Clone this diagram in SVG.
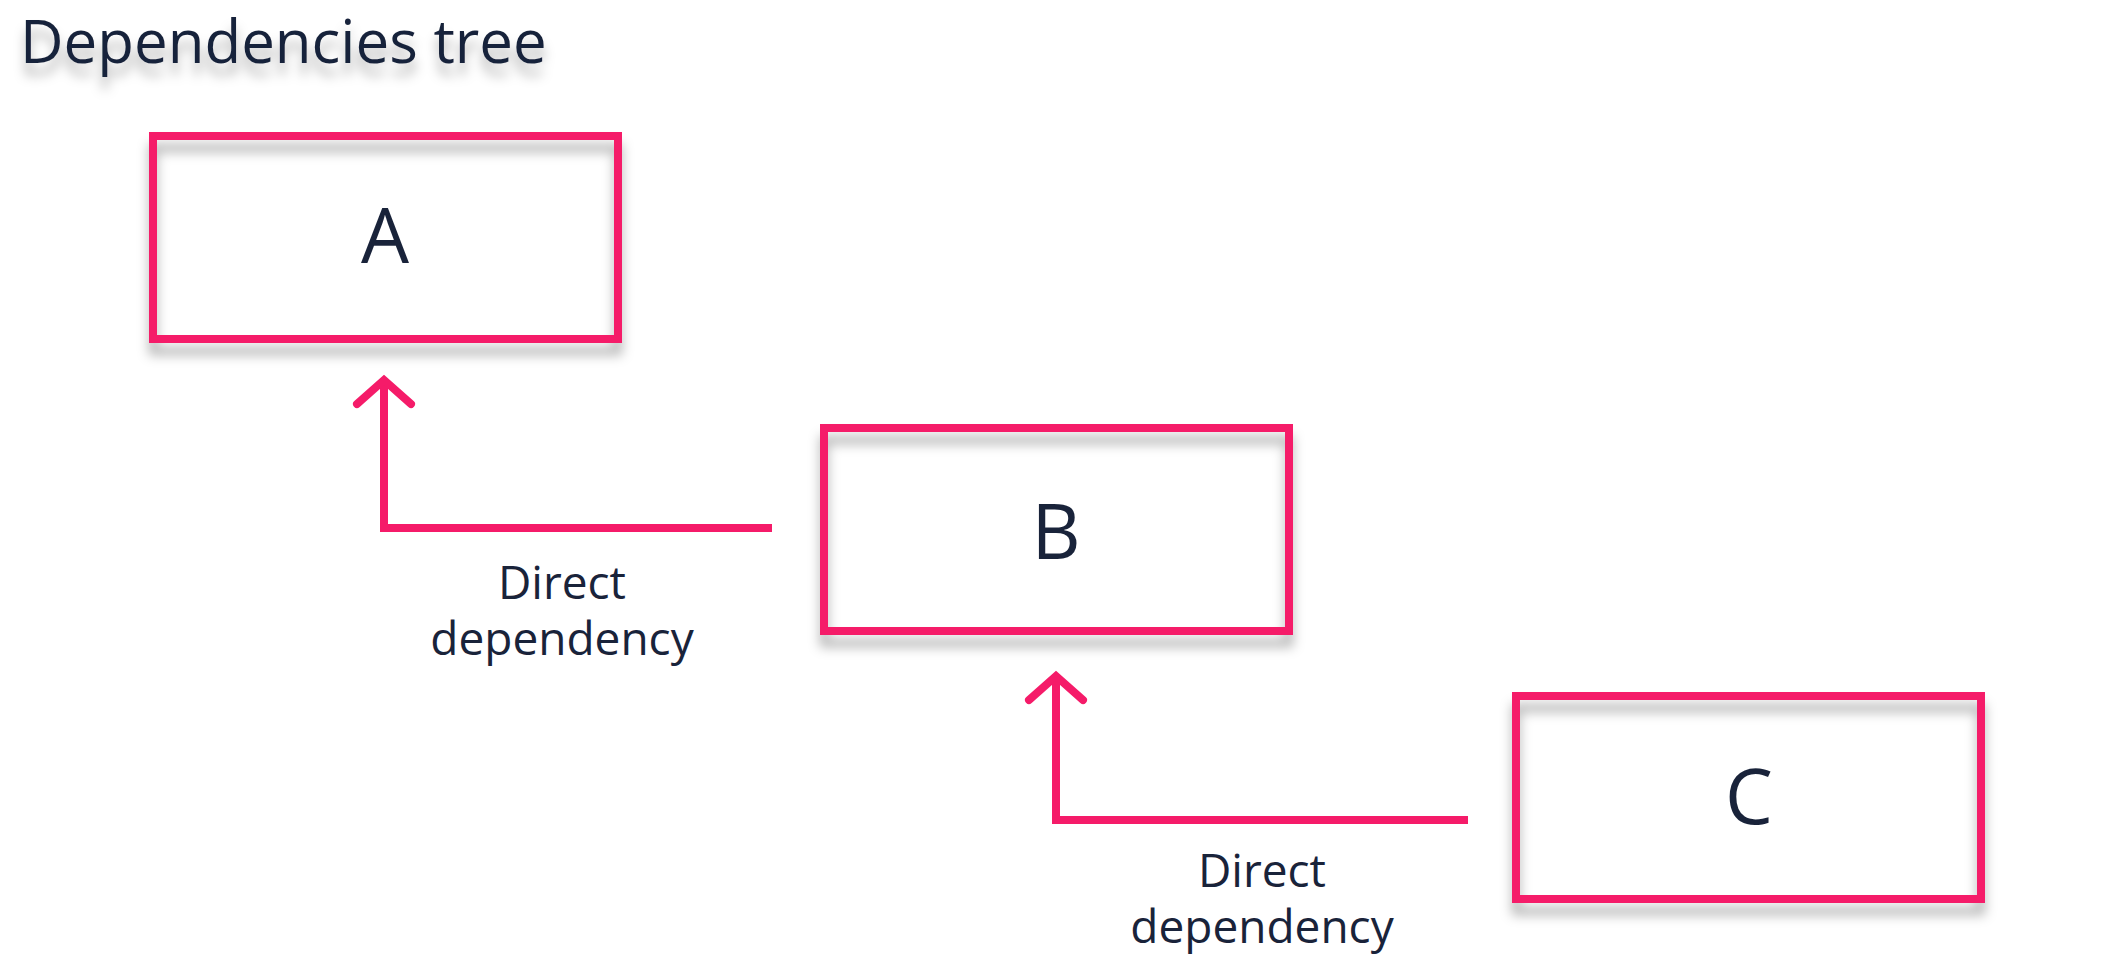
<svg xmlns="http://www.w3.org/2000/svg" width="2112" height="964" viewBox="0 0 2112 964">
<style>
.txt{font-family:"Open Sans","Noto Sans","DejaVu Sans",sans-serif;fill:#19233a}
.box{fill:none;stroke:#f51b69;stroke-width:8;filter:url(#sh)}
.conn{fill:none;stroke:#f51b69;stroke-width:8}
.head{fill:none;stroke:#f51b69;stroke-width:8;stroke-linecap:round;stroke-linejoin:miter}
.lbl{font-size:46px;text-anchor:middle}
.name{font-size:76px;text-anchor:middle}
</style>
<defs>
<filter id="sh" x="-10%" y="-20%" width="120%" height="160%">
<feDropShadow dx="0" dy="12" stdDeviation="6" flood-color="#000" flood-opacity="0.3"/>
</filter>
</defs>
<rect width="2112" height="964" fill="#fff"/>
<text class="txt" x="20" y="63" font-size="60" filter="url(#sh)">Dependencies tree</text>
<g id="connectors">
<g id="c-b-a">
<polyline class="conn" points="772,528 384,528 384,380"/>
<polyline class="head" points="357,404 384,380 411,404"/>
<text class="txt lbl" x="562" y="599">Direct</text>
<text class="txt lbl" x="562" y="655">dependency</text>
</g>
<g id="c-c-b">
<polyline class="conn" points="1468,820 1056,820 1056,676"/>
<polyline class="head" points="1029,700 1056,676 1083,700"/>
<text class="txt lbl" x="1262" y="887">Direct</text>
<text class="txt lbl" x="1262" y="943">dependency</text>
</g>
</g>
<g id="node-a">
<rect class="box" x="153" y="136" width="465" height="203"/>
<text class="txt name" x="385" y="263">A</text>
</g>
<g id="node-b">
<rect class="box" x="824" y="428" width="465" height="203"/>
<text class="txt name" x="1056" y="559">B</text>
</g>
<g id="node-c">
<rect class="box" x="1516" y="696" width="465" height="203"/>
<text class="txt name" x="1749" y="824">C</text>
</g>
</svg>
